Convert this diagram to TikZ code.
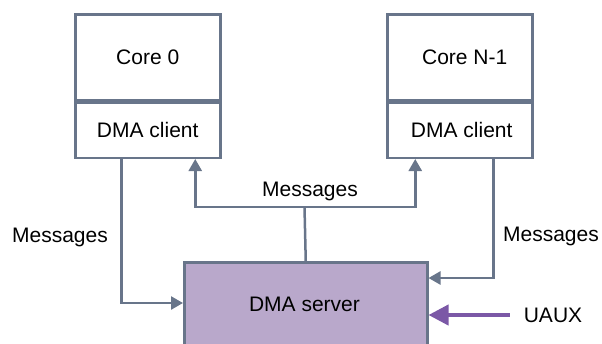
\documentclass[tikz,border=0pt]{standalone}
\usepackage{fontspec}
\setmainfont{Liberation Sans}
\usetikzlibrary{arrows.meta,calc}
\definecolor{edge}{HTML}{68758A}
\definecolor{srvfill}{HTML}{B9A8CB}
\definecolor{uauxc}{HTML}{7B58A6}
\begin{document}
\begin{tikzpicture}[x=1pt,y=-1pt,
  every node/.style={font=\fontsize{21}{25}\selectfont, text=black},
  box/.style={draw=edge, line width=2.5pt, fill=white, minimum width=145pt, inner sep=0pt},
  conn/.style={draw=edge, line width=2.5pt, -{Triangle[length=12pt,width=13pt]}},
  biconn/.style={draw=edge, line width=2.5pt, {Triangle[length=12pt,width=13pt]}-{Triangle[length=12pt,width=13pt]}},
  ulink/.style={draw=uauxc, line width=4pt, -{Triangle[length=20pt,width=20pt]}},
  lbl/.style={inner sep=0pt}]
\useasboundingbox (0,0) rectangle (602,343);
\clip (0,0) rectangle (602,343);

% client cores
\node[box, minimum height=86pt, anchor=north west] (core0) at (74,13) {Core 0};
\node[box, minimum height=55pt, anchor=north] (client0) at (core0.south) {DMA client};
\node[box, minimum height=86pt, anchor=north west] (coreN) at (386,13) {\hspace{10pt}Core N-1};
\node[box, minimum height=55pt, anchor=north] (clientN) at (coreN.south) {\hspace{4pt}DMA client};

% server, running past the lower edge
\node[box, fill=srvfill, minimum width=243pt, minimum height=120pt, anchor=north west] (server) at (183,261) {};
\node[lbl] (srvtext) at (304.5,304) {DMA server};

% connectors
\coordinate (bus) at (304.5,207);
\draw[conn] ([xshift=-26.5pt]client0.south) |- ([yshift=-42pt]server.north west);
\draw[edge, line width=2.5pt] (server.north) -- (bus);
\draw[biconn] ([xshift=47.5pt]client0.south) |- (bus) -| ([xshift=-44.5pt]clientN.south);
\draw[conn] ([xshift=33.5pt]clientN.south) |- ([yshift=-17pt]server.north east);

% labels
\node[lbl] (mleft) at (60,237) {Messages};
\node[lbl] (mmid) at (310,191) {Messages};
\node[lbl] (mright) at (551,236) {Messages};
\node[lbl] (uaux) at (553,315) {UAUX};
\draw[ulink] ([xshift=-14pt]uaux.west) -- (server.east |- uaux);
\end{tikzpicture}
\end{document}
